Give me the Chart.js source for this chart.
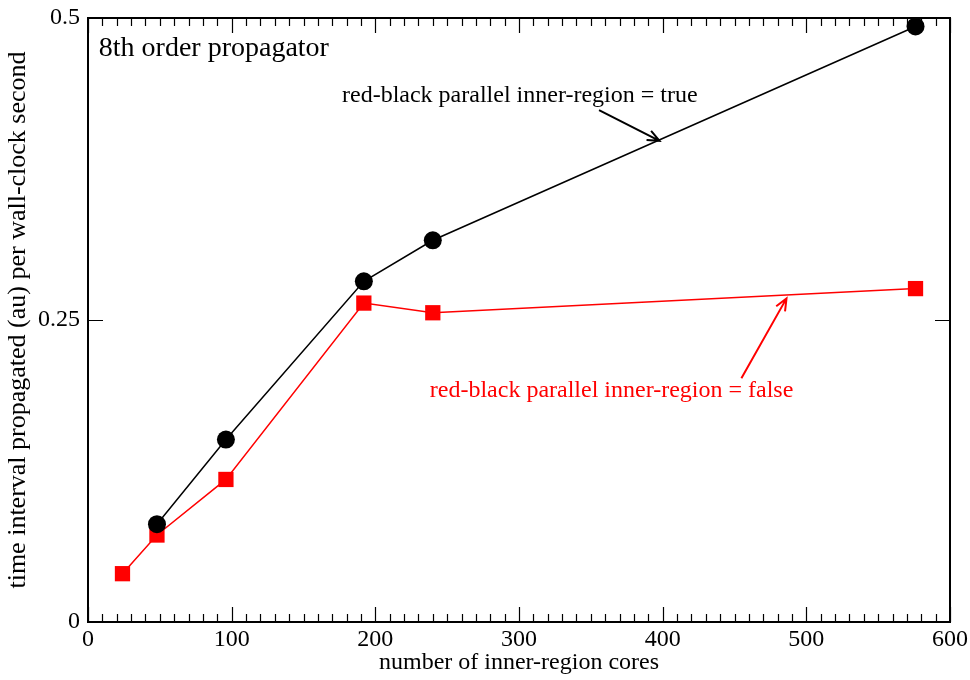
<!DOCTYPE html>
<html>
<head>
<meta charset="utf-8">
<title>8th order propagator</title>
<script src="https://cdn.jsdelivr.net/npm/chart.js@4.4.0/dist/chart.umd.min.js"></script>
<style>
  html, body { margin: 0; padding: 0; background: #fff; }
  #wrap { width: 970px; height: 680px; }
</style>
</head>
<body>
<div id="wrap"><canvas id="chartPropagator" width="970" height="680"></canvas></div>
<script>
// data
const coresTrue = [48, 96, 192, 240, 576];
const rateTrue = [0.081, 0.151, 0.282, 0.316, 0.493];
const coresFalse = [24, 48, 96, 192, 240, 576];
const rateFalse = [0.040, 0.072, 0.118, 0.264, 0.256, 0.276];

const xTicks = [0, 100, 200, 300, 400, 500, 600];
const yTicks = [0, 0.25, 0.5];

const serif = "'Liberation Serif', 'DejaVu Serif', serif";

function toPoints(xs, ys) {
  return xs.map((x, i) => ({ x: x, y: ys[i] }));
}

// frame, inward ticks, arrows and labels
const decorations = {
  id: "decorations",
  afterDraw(chart) {
    const ctx = chart.ctx;
    const area = chart.chartArea;
    const xs = chart.scales.x;
    const ys = chart.scales.y;
    ctx.save();
    ctx.strokeStyle = "#000";
    ctx.lineWidth = 2;
    ctx.strokeRect(area.left, area.top, area.right - area.left, area.bottom - area.top);

    ctx.lineWidth = 1.2;
    ctx.beginPath();
    for (let v = 0; v <= 600; v += 10) {
      const px = Math.round(xs.getPixelForValue(v)) + 0.5;
      const len = v % 100 === 0 ? 15 : 8;
      ctx.moveTo(px, area.bottom);
      ctx.lineTo(px, area.bottom - len);
      ctx.moveTo(px, area.top);
      ctx.lineTo(px, area.top + len);
    }
    yTicks.forEach((v) => {
      const py = Math.round(ys.getPixelForValue(v)) + 0.5;
      ctx.moveTo(area.left, py);
      ctx.lineTo(area.left + 15, py);
      ctx.moveTo(area.right, py);
      ctx.lineTo(area.right - 15, py);
    });
    ctx.stroke();

    function arrow(x0, y0, x1, y1, color) {
      const ax = xs.getPixelForValue(x0), ay = ys.getPixelForValue(y0);
      const bx = xs.getPixelForValue(x1), by = ys.getPixelForValue(y1);
      const ang = Math.atan2(by - ay, bx - ax);
      ctx.strokeStyle = color;
      ctx.lineWidth = 2;
      ctx.beginPath();
      ctx.moveTo(ax, ay);
      ctx.lineTo(bx, by);
      ctx.moveTo(bx - 13 * Math.cos(ang - 0.4), by - 13 * Math.sin(ang - 0.4));
      ctx.lineTo(bx, by);
      ctx.lineTo(bx - 13 * Math.cos(ang + 0.4), by - 13 * Math.sin(ang + 0.4));
      ctx.stroke();
    }
    arrow(355.7, 0.4237, 397.8, 0.3983, "#000");
    arrow(454.8, 0.2017, 486.2, 0.2679, "#ff0000");

    ctx.textBaseline = "alphabetic";
    ctx.textAlign = "left";
    ctx.fillStyle = "#000";
    ctx.font = "28px " + serif;
    ctx.fillText("8th order propagator", xs.getPixelForValue(7.5), ys.getPixelForValue(0.4683));
    ctx.font = "24px " + serif;
    ctx.fillText("red-black parallel inner-region = true", xs.getPixelForValue(176.8), ys.getPixelForValue(0.4305));
    ctx.fillStyle = "#ff0000";
    ctx.fillText("red-black parallel inner-region = false", xs.getPixelForValue(237.9), ys.getPixelForValue(0.1866));
    ctx.restore();
  },
};

const chart = new Chart("chartPropagator", {
  type: "line",
  data: {
    datasets: [
      {
        label: "red-black parallel inner-region = true",
        data: toPoints(coresTrue, rateTrue),
        borderColor: "#000",
        backgroundColor: "#000",
        borderWidth: 1.5,
        pointStyle: "circle",
        pointRadius: 9,
        pointBorderWidth: 0,
        tension: 0,
        fill: false,
        clip: false,
      },
      {
        label: "red-black parallel inner-region = false",
        data: toPoints(coresFalse, rateFalse),
        borderColor: "#ff0000",
        backgroundColor: "#ff0000",
        borderWidth: 1.5,
        pointStyle: "rect",
        pointRadius: 10.8,
        pointBorderWidth: 0,
        tension: 0,
        fill: false,
        clip: false,
      },
    ],
  },
  options: {
    responsive: false,
    animation: false,
    layout: { padding: { top: 18, right: 20, left: 0, bottom: 0 } },
    plugins: {
      legend: { display: false },
      tooltip: { enabled: false },
    },
    scales: {
      x: {
        type: "linear",
        min: 0,
        max: 600,
        afterFit(scale) {
          scale.height = 58;
          scale.paddingLeft = 0;
          scale.paddingRight = 0;
        },
        afterBuildTicks(scale) { scale.ticks = xTicks.map((v) => ({ value: v })); },
        grid: { display: false, drawTicks: false, tickLength: 0 },
        border: { display: false },
        ticks: {
          color: "#000",
          font: { family: serif, size: 24 },
          padding: 3,
          maxRotation: 0,
          autoSkip: false,
        },
        title: {
          display: true,
          text: "number of inner-region cores",
          color: "#000",
          font: { family: serif, size: 24 },
          padding: { top: 0, bottom: 3 },
        },
      },
      y: {
        type: "linear",
        min: 0,
        max: 0.5,
        afterFit(scale) {
          scale.width = 88;
          scale.paddingTop = 0;
          scale.paddingBottom = 0;
        },
        afterBuildTicks(scale) { scale.ticks = yTicks.map((v) => ({ value: v })); },
        grid: { display: false, drawTicks: false, tickLength: 0 },
        border: { display: false },
        ticks: {
          color: "#000",
          font: { family: serif, size: 24 },
          padding: 8,
          callback: (v) => String(v),
        },
        title: {
          display: true,
          text: "time interval propagated (au) per wall-clock second",
          color: "#000",
          font: { family: serif, size: 26 },
          padding: { top: 3, bottom: 0 },
        },
      },
    },
  },
  plugins: [decorations],
});
</script>
</body>
</html>
